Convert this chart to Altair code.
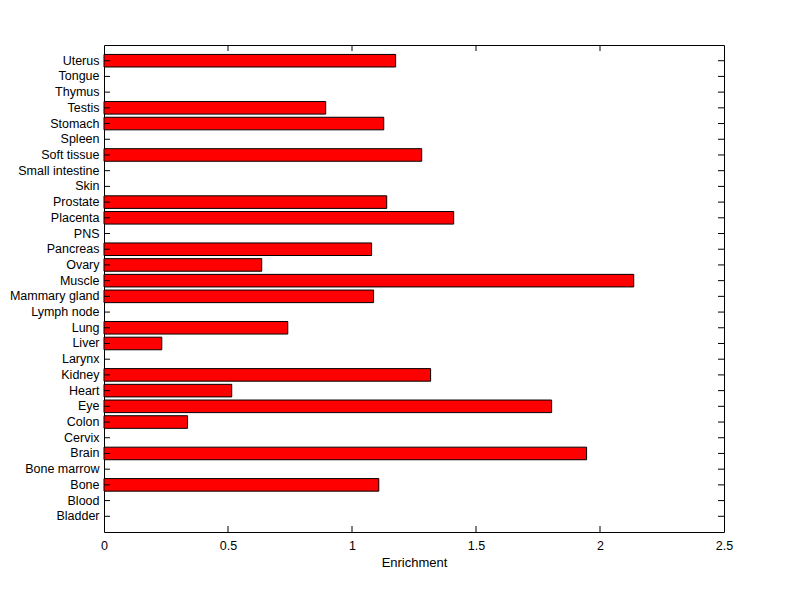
import altair as alt
import pandas as pd

categories = ["Bladder", "Blood", "Bone", "Bone marrow", "Brain", "Cervix", "Colon", "Eye",
              "Heart", "Kidney", "Larynx", "Liver", "Lung", "Lymph node", "Mammary gland",
              "Muscle", "Ovary", "Pancreas", "PNS", "Placenta", "Prostate", "Skin",
              "Small intestine", "Soft tissue", "Spleen", "Stomach", "Testis", "Thymus",
              "Tongue", "Uterus"]
values = [0, 0, 1.108, 0, 1.946, 0, 0.337, 1.805,
          0.515, 1.317, 0, 0.233, 0.741, 0, 1.087,
          2.136, 0.636, 1.079, 0, 1.410, 1.140, 0,
          0, 1.281, 0, 1.128, 0.894, 0,
          0, 1.176]
x_ticks = [0, 0.5, 1, 1.5, 2, 2.5]
inner_x_ticks = [0.5, 1, 1.5, 2]

W, H = 620, 487
FONT = "Liberation Sans"

df = pd.DataFrame({"cat": categories, "val": values})
bars_df = df[df["val"] > 0]
cats_df = pd.DataFrame({"cat": categories})
xt_df = pd.DataFrame({"val": inner_x_ticks})

domain_top_first = list(reversed(categories))
yscale = alt.Scale(domain=domain_top_first, paddingInner=0.2, paddingOuter=0.6)
xscale = alt.Scale(domain=[0, 2.5], nice=False, zero=True)

xaxis = alt.Axis(values=x_ticks, format="~g", tickSize=0, domain=False, labelFlush=False,
                 labelPadding=7, titlePadding=5, grid=False)
yaxis = alt.Axis(tickSize=0, domain=False, labelPadding=5, grid=False)

X = alt.X("val:Q", scale=xscale, title="Enrichment", axis=xaxis)
Y = alt.Y("cat:N", scale=yscale, title=None, axis=yaxis)

bars = alt.Chart(bars_df).mark_bar(color="#ff0000", stroke="black", strokeWidth=1).encode(
    x=X, y=Y)

ytick_left = alt.Chart(cats_df).mark_rule(color="black").encode(
    y=Y, x=alt.value(0), x2=alt.value(6))
ytick_right = alt.Chart(cats_df).mark_rule(color="black").encode(
    y=Y, x=alt.value(W - 6), x2=alt.value(W))
xtick_bottom = alt.Chart(xt_df).mark_rule(color="black").encode(
    x=X, y=alt.value(H), y2=alt.value(H - 6))
xtick_top = alt.Chart(xt_df).mark_rule(color="black").encode(
    x=X, y=alt.value(0), y2=alt.value(6))

chart = alt.layer(bars, ytick_left, ytick_right, xtick_bottom, xtick_top).properties(
    width=W, height=H,
    autosize=alt.AutoSizeParams(type="none"),
    padding={"left": 96, "top": 37, "right": 60, "bottom": 60},
    background="white",
).configure_view(stroke="black", strokeWidth=1).configure_axis(
    labelFont=FONT, titleFont=FONT, labelFontSize=12.5, titleFontSize=13,
    labelColor="black", titleColor="black", titleFontWeight="normal",
)

chart.save("out.html", embed_options={"renderer": "svg", "actions": False})
